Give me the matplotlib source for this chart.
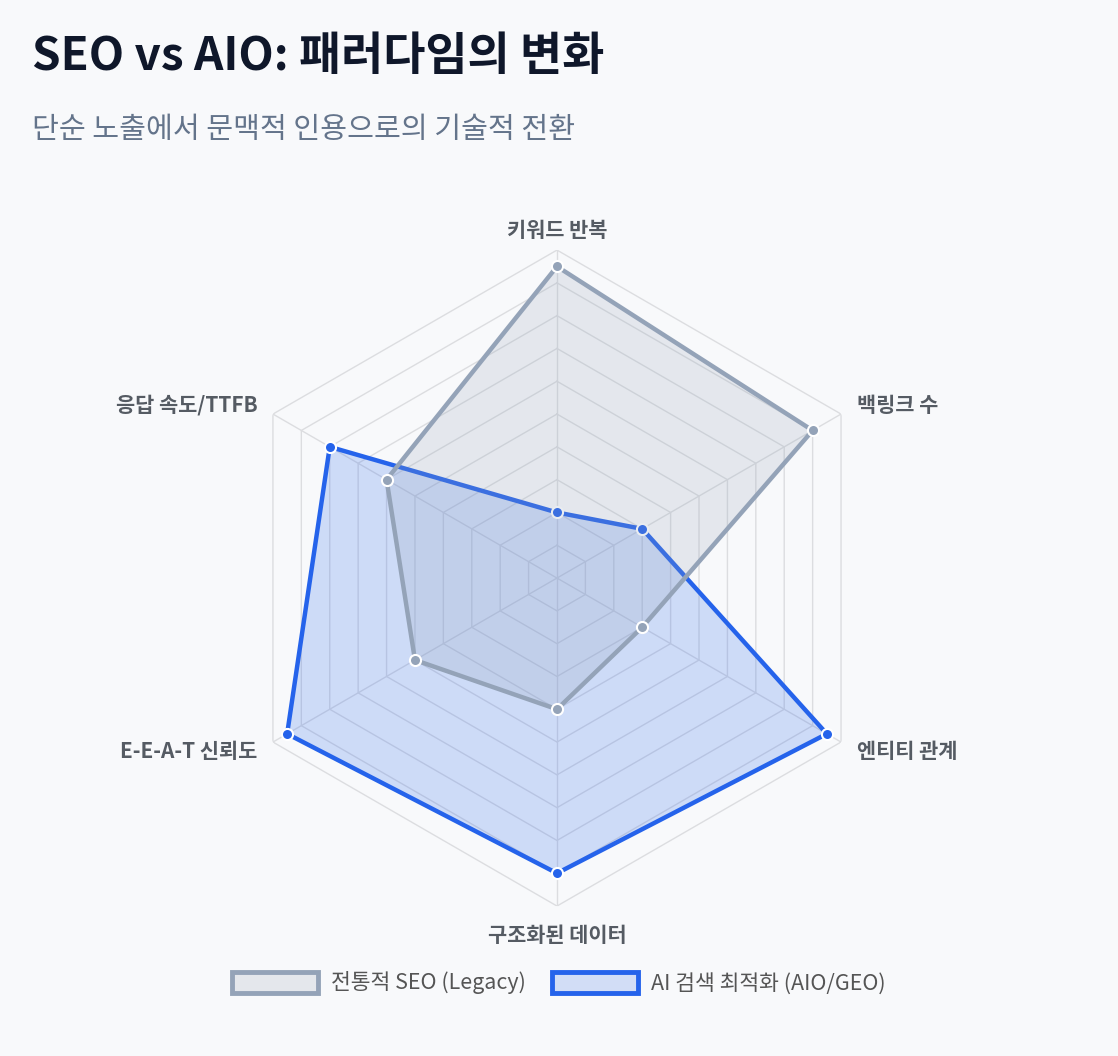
import numpy as np
import matplotlib.pyplot as plt
from matplotlib.patches import Patch

plt.rcParams['font.family'] = ['Noto Sans CJK KR', 'DejaVu Sans']

# data
categories = ['키워드 반복', '백링크 수', '엔티티 관계', '구조화된 데이터', 'E-E-A-T 신뢰도', '응답 속도/TTFB']
seo_values = [95, 90, 30, 40, 50, 60]
aio_values = [20, 30, 95, 90, 95, 80]
seo_label = '전통적 SEO (Legacy)'
aio_label = 'AI 검색 최적화 (AIO/GEO)'

bg = '#f8f9fb'
seo_col = '#94a3b8'
aio_col = '#2563eb'
lab_col = '#555b63'

fig = plt.figure(figsize=(11.18, 10.56), dpi=100, facecolor=bg)
ax = fig.add_axes([0.2048, 0.142, 0.5868, 0.6212], projection='polar')
ax.set_facecolor('none')
ax.set_theta_offset(np.pi / 2)
ax.set_theta_direction(-1)
ax.set_ylim(0, 100)
ax.grid(False)
ax.spines['polar'].set_visible(False)
ax.set_xticks([])
ax.set_yticks([])

n = len(categories)
angles = np.linspace(0, 2 * np.pi, n, endpoint=False)
ang_closed = np.append(angles, angles[0])

# hexagon grid + spokes
for lvl in range(10, 101, 10):
    ax.plot(ang_closed, [lvl] * (n + 1), color='#dcdde0', lw=1, zorder=1)
for a in angles:
    ax.plot([a, a], [0, 100], color='#dcdde0', lw=1, zorder=1)

def draw(vals, col, z):
    v = np.append(vals, vals[0])
    ax.fill(ang_closed, v, color=col, alpha=0.2, lw=0, zorder=z)
    ax.plot(ang_closed, v, color=col, lw=3.2, zorder=z + 1, solid_joinstyle='miter')
    ax.plot(angles, vals, 'o', color=col, ms=8, mec='white', mew=1.5, zorder=z + 2)

draw(aio_values, aio_col, 2)
draw(seo_values, seo_col, 5)

# axis labels
for a, lab in zip(angles, categories):
    deg = np.degrees(a) % 360
    kw = dict(va='center', fontsize=15, fontweight='semibold', color=lab_col)
    if deg < 1:
        ax.text(a, 106, lab, ha='center', **kw)
    elif abs(deg - 180) < 1:
        ax.text(a, 109, lab, ha='center', **kw)
    elif deg < 180:
        ax.text(a, 105.5, lab, ha='left', **kw)
    else:
        ax.text(a, 105.5, lab, ha='right', **kw)

fig.text(32 / 1118, 1 - 57 / 1056, 'SEO vs AIO: 패러다임의 변화', fontsize=33, fontweight='bold',
         color='#0f172a', ha='left', va='center')
fig.text(32 / 1118, 1 - 130 / 1056, '단순 노출에서 문맥적 인용으로의 기술적 전환', fontsize=21,
         color='#64748b', ha='left', va='center')

handles = [Patch(facecolor='#e4e7ec', edgecolor=seo_col, lw=3.5, label=seo_label),
           Patch(facecolor='#d2ddf6', edgecolor=aio_col, lw=3.5, label=aio_label)]
fig.legend(handles=handles, loc='center', bbox_to_anchor=(0.5, 1 - 983 / 1056), ncol=2,
           frameon=False, fontsize=15.5, handlelength=4.0, handleheight=1.1, columnspacing=1.2,
           handletextpad=0.6, labelcolor='#555555')

fig.savefig('out.png', dpi=100, facecolor=bg)
